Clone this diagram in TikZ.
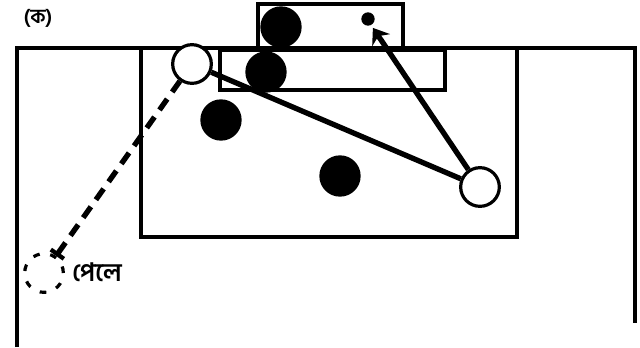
\documentclass[tikz,border=0pt]{standalone}
\usepackage{fontspec}
\newfontfamily\bnfont[Script=Bengali]{Hind Siliguri}
\usetikzlibrary{arrows.meta}
\tikzset{
  field/.style={line width=2.3pt, line join=miter},
  player/.style={circle, draw, line width=2.4pt, fill=white, minimum size=29pt, inner sep=0pt},
  opp/.style={circle, fill=black, minimum size=31pt, inner sep=0pt},
  ghost/.style={circle, draw, line width=2.4pt, dash pattern=on 5pt off 8pt, minimum size=29pt, inner sep=0pt},
  pass/.style={line width=4pt},
  run/.style={line width=4pt, dash pattern=on 10pt off 6.5pt},
  lbl/.style={inner sep=0pt}
}
\begin{document}
\begin{tikzpicture}[x=0.75pt,y=-0.75pt]
\useasboundingbox (0,0) rectangle (640,347);
% field lines
\draw[field] (17,347) -- (17,48) -- (635,48) -- (635,323);
\draw[field] (141,48) rectangle (517,237);
\draw[field] (220,50) rectangle (445,90);
\draw[field] (258,4) rectangle (403,48);
% players
\node[opp] (o1) at (281,27) {};
\node[opp] (o2) at (266,72) {};
\node[opp] (o3) at (221,120) {};
\node[opp] (o4) at (340,176) {};
\node[circle, fill=black, minimum size=10pt, inner sep=0pt] (ball) at (368,19) {};
\node[player] (p1) at (192,64) {};
\node[player] (p2) at (480,187) {};
\node[ghost] (g) at (44,273) {};
% connectors
\draw[pass] (p1) -- (p2);
\draw[pass, -{Stealth[length=11pt,width=16pt]}] (p2) -- ([yshift=-3pt]ball.south east);
\draw[run, -{Bar[width=12pt,line width=3.2pt]}] (p1) -- (g);
% labels
\node[lbl, font=\bnfont\bfseries\fontsize{19}{22}\selectfont, anchor=west] (t1) at (72,272) {পেলে};
\node[lbl, font=\bnfont\bfseries\fontsize{15}{18}\selectfont, anchor=center] (t2) at (38,18) {(ক)};
\end{tikzpicture}
\end{document}
